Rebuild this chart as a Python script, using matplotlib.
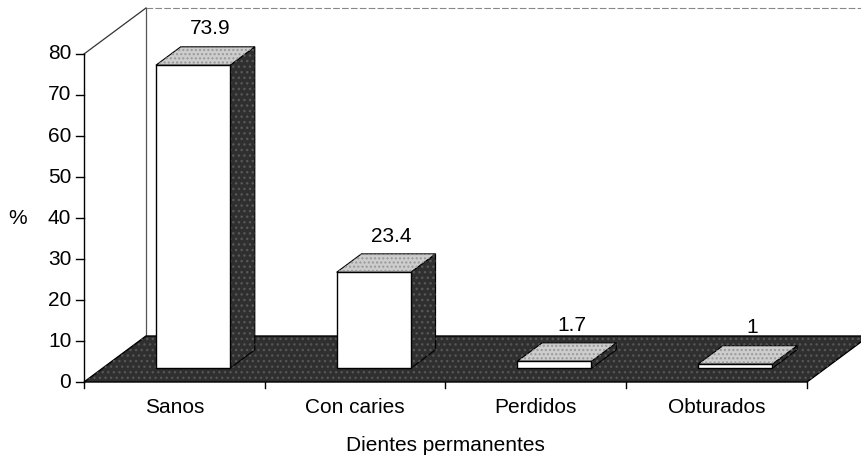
import matplotlib.pyplot as plt
from matplotlib.patches import Polygon

categorias = ['Sanos', 'Con caries', 'Perdidos', 'Obturados']
porcentajes = [73.9, 23.4, 1.7, 1]
yticks = [0, 10, 20, 30, 40, 50, 60, 70, 80]

plt.rcParams['font.family'] = ['Liberation Sans', 'DejaVu Sans']

fig = plt.figure(figsize=(8.61, 4.62), dpi=100)
ax = fig.add_axes([0, 0, 1, 1])
ax.set_xlim(-0.9647, 3.799)
ax.set_ylim(-19.51, 93.17)
ax.axis('off')

# vector de profundidad (efecto 3D)
dx, dy = 0.343, 11.22
n = len(categorias)
x0, x1 = -0.5, n - 0.5
ymax = yticks[-1]
oscuro = '#2f2f2f'
claro = '#cdcdcd'

# piso
piso = [(x0, 0), (x1, 0), (x1 + dx, dy), (x0 + dx, dy)]
ax.add_patch(Polygon(piso, facecolor=oscuro, edgecolor='black', lw=1, zorder=1))
ax.add_patch(Polygon(piso, facecolor='none', edgecolor='#555555', hatch='...', lw=0, zorder=1.1))

# paredes
ax.plot([x0 + dx, x0 + dx], [dy, ymax + dy], color='#555555', lw=0.9, zorder=0.5)
ax.plot([x0 + dx, x1 + dx], [ymax + dy, ymax + dy], color='#888888', lw=0.8, ls=(0, (6, 2)), zorder=0.5)
ax.plot([x0, x0 + dx], [ymax, ymax + dy], color='#333333', lw=0.9, zorder=0.5)

# eje y
ax.plot([x0, x0], [0, ymax], color='black', lw=1, zorder=3)
for t in yticks:
    ax.plot([x0 - 0.044, x0], [t, t], color='black', lw=1, zorder=3)
    ax.text(x0 - 0.07, t, str(t), ha='right', va='center', fontsize=15)
ax.text(-0.865, 40, '%', ha='center', va='center', fontsize=15)

# eje x
for k in range(n + 1):
    ax.plot([x0 + k, x0 + k], [0, -1.5], color='black', lw=1, zorder=3)
for i, c in enumerate(categorias):
    ax.text(i, -6.2, c, ha='center', va='center', fontsize=15)
ax.text(1.5, -15.4, 'Dientes permanentes', ha='center', va='center', fontsize=15)

# barras
f0, f1 = 0.3, 0.7
w = 0.41
ddx, ddy = (f1 - f0) * dx, (f1 - f0) * dy
for i, v in enumerate(porcentajes):
    xl = i - w / 2 + f0 * dx
    xr = xl + w
    yb = f0 * dy
    yt = v + f0 * dy
    lado = [(xr, yb), (xr + ddx, yb + ddy), (xr + ddx, yt + ddy), (xr, yt)]
    ax.add_patch(Polygon(lado, facecolor=oscuro, edgecolor='black', lw=0.8, zorder=4))
    ax.add_patch(Polygon(lado, facecolor='none', edgecolor='#575757', hatch='...', lw=0, zorder=4.1))
    tapa = [(xl, yt), (xr, yt), (xr + ddx, yt + ddy), (xl + ddx, yt + ddy)]
    ax.add_patch(Polygon(tapa, facecolor=claro, edgecolor='black', lw=0.8, zorder=4))
    ax.add_patch(Polygon(tapa, facecolor='none', edgecolor='#999999', hatch='....', lw=0, zorder=4.1))
    frente = [(xl, yb), (xr, yb), (xr, yt), (xl, yt)]
    ax.add_patch(Polygon(frente, facecolor='white', edgecolor='black', lw=1, zorder=5))
    ax.annotate('{:g}'.format(v), xy=(i + 0.575 * dx, v + f1 * dy),
                xytext=(0, 6), textcoords='offset points',
                ha='center', va='bottom', fontsize=15)

plt.savefig('out.png', dpi=100)
